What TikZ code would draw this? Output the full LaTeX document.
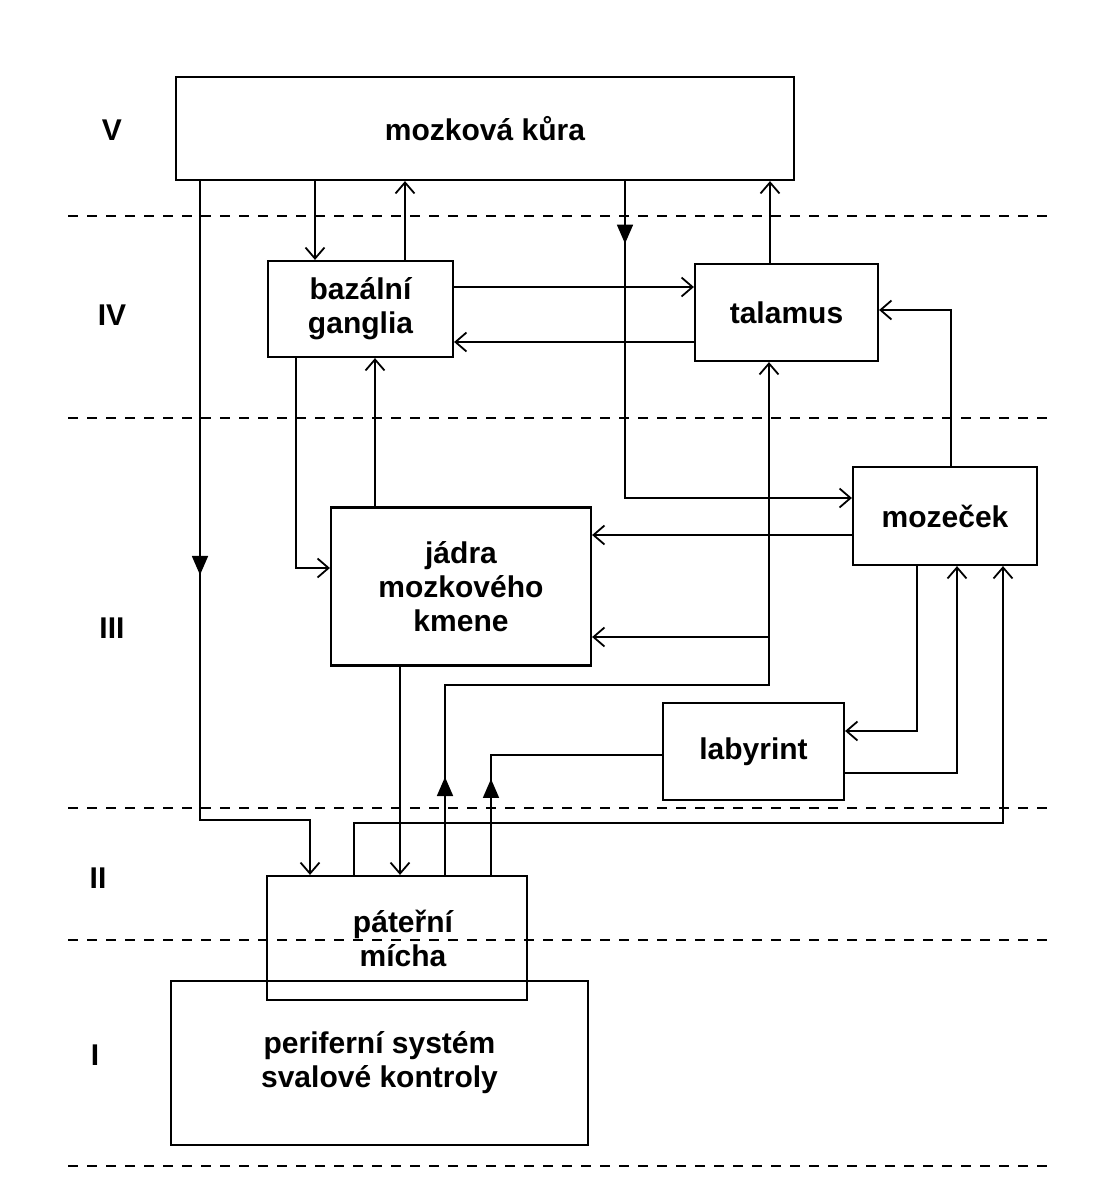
\documentclass[tikz,border=0pt]{standalone}
\usepackage{fontspec}
\setmainfont{Liberation Sans}
\usepackage{tikz}
\usetikzlibrary{arrows.meta,decorations.markings}

\tikzset{
  box/.style={draw, line width=2.2pt, align=center, inner sep=0pt,
    font=\fontsize{30}{34}\selectfont\bfseries},
  conn/.style={line width=1.7pt, -{Straight Barb[length=11pt,width=19pt,line width=1.8pt]}},
  wire/.style={line width=1.7pt},
  level/.style={line width=1.8pt, dash pattern=on 10pt off 9pt},
  lvl/.style={font=\fontsize{30}{34}\selectfont\bfseries},
  midtri/.style={postaction={decorate}, decoration={markings,
    mark=at position #1 with {\arrow{Triangle[length=19pt,width=16pt]}}}}
}

\begin{document}
\begin{tikzpicture}[x=1pt,y=-1pt]
        \useasboundingbox (0,0) rectangle (1108,1178);

        % Draw levels
        \foreach \yy in {216,418,808,940,1166}
          \draw[level] (68,\yy) -- (1048,\yy);
        \node[lvl] (l5) at (112,130) {V};
        \node[lvl] (l4) at (112,315) {IV};
        \node[lvl] (l3) at (112,628) {III};
        \node[lvl] (l2) at (98,878) {II};
        \node[lvl] (l1) at (95,1055) {I};

        % Draw boxes
        \node[box, minimum width=618pt, minimum height=103pt] (kura) at (485,128.5) {mozková kůra};
        \node[box, minimum width=185pt, minimum height=96pt] (bazal) at (360.5,309) {bazální\\ganglia};
        \node[box, minimum width=183pt, minimum height=97pt] (talamus) at (786.5,312.5) {talamus};
        \node[box, minimum width=184pt, minimum height=98pt] (mozecek) at (945,516) {mozeček};
        \node[box, minimum width=260pt, minimum height=158pt] (jadra) at (461,586.5) {jádra\\mozkového\\kmene};
        \node[box, minimum width=181pt, minimum height=97pt] (labyrint) at (753.5,751.5) {labyrint};
        \node[box, minimum width=417pt, minimum height=164pt] (perif) at (379.5,1063) {periferní systém\\svalové kontroly};
        \node[box, minimum width=260pt, minimum height=124pt] (micha) at (397,938) {\hspace{12pt}páteřní\\\hspace{12pt}mícha};

        % vertical channels and rows
        \coordinate (xa) at (200,0);  \coordinate (xb) at (315,0);
        \coordinate (xc) at (405,0);  \coordinate (xd) at (625,0);
        \coordinate (xe) at (770,0);  \coordinate (xf) at (951,0);
        \coordinate (xg) at (296,0);  \coordinate (xh) at (375,0);
        \coordinate (xi) at (400,0);  \coordinate (xj) at (445,0);
        \coordinate (xk) at (491,0);  \coordinate (xl) at (917,0);
        \coordinate (xm) at (957,0);  \coordinate (xn) at (1003,0);
        \coordinate (xo) at (354,0);  \coordinate (xp) at (310,0);
        \coordinate (xq) at (769,0);
        \coordinate (ya) at (0,287);  \coordinate (yb) at (0,342);
        \coordinate (yc) at (0,310);  \coordinate (yd) at (0,498);
        \coordinate (ye) at (0,535);  \coordinate (yf) at (0,568);
        \coordinate (yg) at (0,637);  \coordinate (yh) at (0,685);
        \coordinate (yi) at (0,731);  \coordinate (yj) at (0,773);
        \coordinate (yk) at (0,755);  \coordinate (yl) at (0,820);
        \coordinate (ym) at (0,823);

        % cortex
        \draw[conn, midtri=0.49] (kura.south -| xa) |- (xp |- yl) -- (micha.north -| xp);
        \draw[conn] (kura.south -| xb) -- (bazal.north -| xb);
        \draw[conn] (bazal.north -| xc) -- (kura.south -| xc);
        \draw[conn, midtri=0.115] (kura.south -| xd) |- (mozecek.west |- yd);
        \draw[conn] (talamus.north -| xe) -- (kura.south -| xe);

        % basal ganglia, thalamus
        \draw[conn] (bazal.east |- ya) -- (talamus.west |- ya);
        \draw[conn] (talamus.west |- yb) -- (bazal.east |- yb);
        \draw[conn] (mozecek.north -| xf) |- (talamus.east |- yc);
        \draw[conn] (bazal.south -| xg) |- (jadra.west |- yf);
        \draw[conn] (jadra.north -| xh) -- (bazal.south -| xh);

        % brain stem, cerebellum
        \draw[conn] (mozecek.west |- ye) -- (jadra.east |- ye);
        \draw[conn, midtri=0.117] (micha.north -| xj) |- (xq |- yh) -- (talamus.south -| xq);
        \draw[conn] (xq |- yg) -- (jadra.east |- yg);
        \draw[conn] (jadra.south -| xi) -- (micha.north -| xi);

        % labyrinth
        \draw[wire, midtri=0.33] (micha.north -| xk) |- (labyrint.west |- yk);
        \draw[conn] (mozecek.south -| xl) |- (labyrint.east |- yi);
        \draw[conn] (labyrint.east |- yj) -| (mozecek.south -| xm);
        \draw[conn] (micha.north -| xo) |- (xn |- ym) -- (mozecek.south -| xn);
\end{tikzpicture}
\end{document}
